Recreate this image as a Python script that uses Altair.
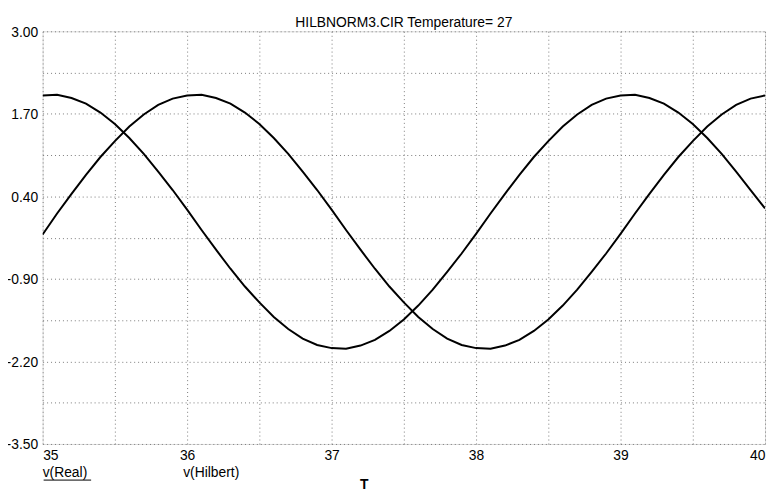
import altair as alt
import pandas as pd

# time samples (T)
t = [35.0, 35.1, 35.2, 35.3, 35.4, 35.5, 35.6, 35.7, 35.8, 35.9,
     36.0, 36.1, 36.2, 36.3, 36.4, 36.5, 36.6, 36.7, 36.8, 36.9,
     37.0, 37.1, 37.2, 37.3, 37.4, 37.5, 37.6, 37.7, 37.8, 37.9,
     38.0, 38.1, 38.2, 38.3, 38.4, 38.5, 38.6, 38.7, 38.8, 38.9,
     39.0, 39.1, 39.2, 39.3, 39.4, 39.5, 39.6, 39.7, 39.8, 39.9, 40.0]

# v(Real)
v_real = [1.99, 2.00, 1.95, 1.86, 1.72, 1.54, 1.32, 1.07, 0.79, 0.50,
          0.19, -0.13, -0.44, -0.74, -1.02, -1.27, -1.50, -1.69, -1.84, -1.94,
          -1.99, -2.00, -1.95, -1.86, -1.72, -1.54, -1.32, -1.07, -0.79, -0.50,
          -0.19, 0.13, 0.44, 0.74, 1.02, 1.27, 1.50, 1.69, 1.84, 1.94,
          1.99, 2.00, 1.95, 1.86, 1.72, 1.54, 1.32, 1.07, 0.79, 0.50, 0.21]

# v(Hilbert)
v_hilbert = [-0.20, 0.13, 0.44, 0.74, 1.02, 1.27, 1.50, 1.69, 1.84, 1.94,
             1.99, 2.00, 1.95, 1.86, 1.72, 1.54, 1.32, 1.07, 0.79, 0.50,
             0.19, -0.13, -0.44, -0.74, -1.02, -1.27, -1.50, -1.69, -1.84, -1.94,
             -1.99, -2.00, -1.95, -1.86, -1.72, -1.54, -1.32, -1.07, -0.79, -0.50,
             -0.19, 0.13, 0.44, 0.74, 1.02, 1.27, 1.50, 1.69, 1.84, 1.94, 1.99]

series_names = ["v(Real)", "v(Hilbert)"]

x_grid = [35.0, 35.5, 36.0, 36.5, 37.0, 37.5, 38.0, 38.5, 39.0, 39.5, 40.0]
x_labels = [35.0, 36.0, 37.0, 38.0, 39.0, 40.0]
y_grid = [-3.5, -2.85, -2.2, -1.55, -0.9, -0.25, 0.4, 1.05, 1.7, 2.35, 3.0]
y_labels = [3.0, 1.7, 0.4, -0.9, -2.2, -3.5]

title_text = "HILBNORM3.CIR Temperature= 27"
x_title = "T"

FONT = "Liberation Sans"
W, H = 730, 417

rows = []
for i, tv in enumerate(t):
    rows.append({"t": tv, "v": v_real[i], "series": series_names[0]})
    rows.append({"t": tv, "v": v_hilbert[i], "series": series_names[1]})
df = pd.DataFrame(rows)

x_expr = "indexof(%s, datum.value) >= 0 ? format(datum.value, 'd') : ''" % str(x_labels)
y_expr = ("indexof(%s, datum.value) >= 0 ? replace(format(datum.value, '.2f'), '\u2212', '-') : ''"
          % str(y_labels))

grid_style = dict(grid=True, gridColor="#7a7a7a", gridDash=[1, 3], gridWidth=1,
                  domain=False, ticks=False, labelFont=FONT, labelFontSize=14,
                  labelColor="black", title=None)

lines = alt.Chart(df).mark_line(color="black", strokeWidth=2, clip=True).encode(
    x=alt.X("t:Q", scale=alt.Scale(domain=[35, 40], nice=False, zero=False),
            axis=alt.Axis(values=x_grid, labelExpr=x_expr, labelFlush=True,
                          labelPadding=5, **grid_style)),
    y=alt.Y("v:Q", scale=alt.Scale(domain=[-3.5, 3.0], nice=False, zero=False),
            axis=alt.Axis(values=y_grid, labelExpr=y_expr, labelPadding=5,
                          labelBaseline="middle", labelOffset=1, **grid_style)),
    detail="series:N",
)

title_mark = alt.Chart(pd.DataFrame({"label": [title_text]})).mark_text(
    font=FONT, fontSize=14, align="center", baseline="alphabetic", color="black"
).encode(x=alt.value(W / 2), y=alt.value(-4), text="label:N")

leg_real = alt.Chart(pd.DataFrame({"label": [series_names[0]]})).mark_text(
    font=FONT, fontSize=14, align="left", baseline="alphabetic", color="black"
).encode(x=alt.value(0), y=alt.value(450), text="label:N")

leg_real_ul = alt.Chart(pd.DataFrame({"label": [series_names[0]]})).mark_rule(
    color="black", strokeWidth=1
).encode(x=alt.value(1), x2=alt.value(49), y=alt.value(453.5))

leg_hil = alt.Chart(pd.DataFrame({"label": [series_names[1]]})).mark_text(
    font=FONT, fontSize=14, align="left", baseline="alphabetic", color="black"
).encode(x=alt.value(142), y=alt.value(450), text="label:N")

x_lab = alt.Chart(pd.DataFrame({"label": [x_title]})).mark_text(
    font=FONT, fontSize=14, align="center", baseline="alphabetic", color="black",
    fontWeight="bold"
).encode(x=alt.value(325), y=alt.value(463), text="label:N")

chart = alt.layer(lines, title_mark, leg_real, leg_real_ul, leg_hil, x_lab).properties(
    width=W,
    height=H,
    autosize=alt.AutoSizeParams(type="none"),
    padding={"left": 35, "top": 21, "right": 3, "bottom": 48},
).configure_view(
    stroke="#555555", strokeDash=[1, 1], strokeWidth=1
).configure(background="white")

chart.save("out.html", embed_options={"renderer": "svg", "actions": False})
